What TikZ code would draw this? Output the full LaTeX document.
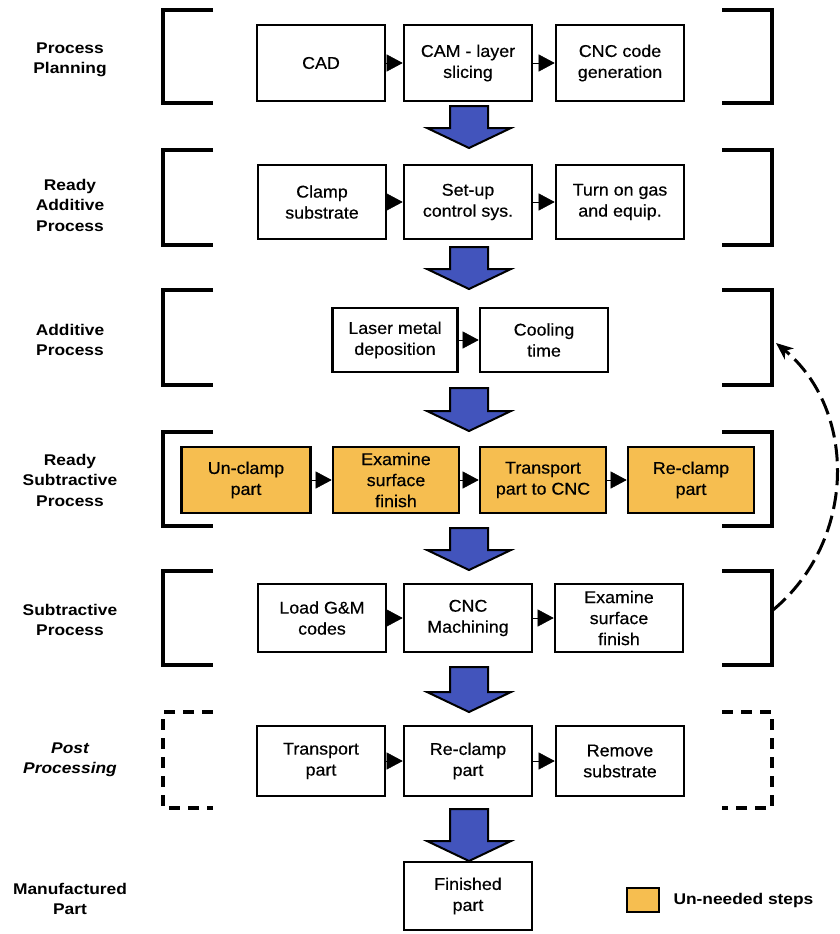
\documentclass[tikz,border=0pt]{standalone}
\usepackage{fontspec}
\setmainfont{Liberation Sans}
\newfontfamily\widesans[FakeStretch=1.12]{Liberation Sans}
\newfontfamily\boxsans[FakeStretch=1.05,FakeBold=0.5]{Liberation Sans}
\usetikzlibrary{arrows.meta,calc}
\definecolor{unneeded}{RGB}{246,190,80}
\definecolor{arrowblue}{RGB}{66,84,188}
\newcommand\bracketrow[3]{%
  \draw[bracketline,#3] (213,#1) -- (163,#1) -- (163,#2) -- (213,#2);
  \draw[bracketline,#3] (722,#1) -- (772,#1) -- (772,#2) -- (722,#2);}
\newcommand\blockarrow[2]{%
  \filldraw[blockarrow] (450,#1) -- (488,#1) -- (488,{#2-20}) -- (511,{#2-20})
    -- (469,#2) -- (427,{#2-20}) -- (450,{#2-20}) -- cycle;}
\begin{document}
\begin{tikzpicture}[x=1pt,y=-1pt,
  box/.style={draw=black, line width=2.6pt, fill=white, minimum width=128pt,
    minimum height=#1, align=center, inner sep=2pt,
    font=\boxsans\fontsize{17}{21}\selectfont},
  box/.default=74pt,
  unbox/.style={box=66pt, fill=unneeded},
  flow/.style={-{Triangle[length=16pt,width=17pt]}, line width=0.5pt, shorten <=-1pt},
  bracketline/.style={line width=3.1pt, line join=miter},
  blockarrow/.style={fill=arrowblue, draw=black, line width=2pt, line join=miter},
  rowlabel/.style={align=center, font=\widesans\bfseries\fontsize{15.5}{20.5}\selectfont},
]
\useasboundingbox (0,0) rectangle (840,934);

% brackets
\bracketrow{10}{103}{}
\bracketrow{150}{245}{}
\bracketrow{290}{385}{}
\bracketrow{432}{526}{}
\bracketrow{571}{665}{}
\bracketrow{712}{808}{dash pattern=on 11pt off 8pt}

% row labels
\node[rowlabel] (l1) at (70,60) {Process\\Planning};
\node[rowlabel] (l2) at (70,205) {Ready\\Additive\\Process};
\node[rowlabel] (l3) at (70,340) {Additive\\Process};
\node[rowlabel] (l4) at (70,480) {Ready\\Subtractive\\Process};
\node[rowlabel] (l5) at (70,620) {Subtractive\\Process};
\node[rowlabel] (l6) at (70,760) {\itshape Post\\\itshape Processing};
\node[rowlabel] (l7) at (70,899) {Manufactured\\Part};

% row 1
\node[box=76pt] (cad) at (321,63) {CAD};
\node[box=76pt] (cam) at (468,63) {CAM - layer\\slicing};
\node[box=76pt] (cnc) at (620,63) {CNC code\\generation};
\draw[flow] (cad) -- (cam);
\draw[flow] (cam) -- (cnc);

% row 2
\node[box] (clamp) at (322,202) {Clamp\\substrate};
\node[box] (setup) at (468,202) {Set-up\\control sys.};
\node[box] (gas) at (620,202) {Turn on gas\\and equip.};
\draw[flow] (clamp) -- (setup);
\draw[flow] (setup) -- (gas);

% row 3
\node[box=64pt, minimum width=125pt] (laser) at (395,340) {Laser metal\\deposition};
\node[box=64pt] (cool) at (544,340) {Cooling\\time};
\draw[flow] (laser) -- (cool);

% row 4
\node[unbox, minimum width=129pt] (unclamp) at (246,480) {Un-clamp\\part};
\node[unbox, minimum width=126pt] (exam1) at (396,480) {Examine\\surface\\finish};
\node[unbox, minimum width=126pt] (trans) at (543,480) {Transport\\part to CNC};
\node[unbox, minimum width=126pt] (reclamp1) at (691,480) {Re-clamp\\part};
\draw[flow] (unclamp) -- (exam1);
\draw[flow] (exam1) -- (trans);
\draw[flow] (trans) -- (reclamp1);

% row 5
\node[box=68pt] (load) at (322,618) {Load G\&M\\codes};
\node[box=68pt] (mach) at (468,618) {CNC\\Machining};
\node[box=68pt] (exam2) at (619,618) {Examine\\surface\\finish};
\draw[flow] (load) -- (mach);
\draw[flow] (mach) -- (exam2);

% row 6
\node[box=70pt] (transp) at (321,761) {Transport\\part};
\node[box=70pt] (reclamp2) at (468,761) {Re-clamp\\part};
\node[box=70pt] (remove) at (620,761) {Remove\\substrate};
\draw[flow] (transp) -- (reclamp2);
\draw[flow] (reclamp2) -- (remove);

% row 7
\node[box=68pt] (finished) at (468,896) {Finished\\part};

% block arrows between rows
\blockarrow{106}{148}
\blockarrow{247}{289}
\blockarrow{388}{431}
\blockarrow{528}{570}
\blockarrow{667}{712}
\blockarrow{809}{861}

% feedback dashed arrow
\coordinate (fbstart) at (773,610);
\coordinate (fbend) at (776,343);
\draw[line width=3pt, dash pattern=on 17pt off 7pt, -{Stealth[length=17pt,width=14pt,inset=5pt]}]
  (fbstart) .. controls (857,540) and (857,410) .. (fbend);

% legend
\node[draw=black, line width=1.6pt, fill=unneeded, minimum width=32pt, minimum height=24pt, inner sep=0pt] (legbox) at (643,900) {};
\node[anchor=west, font=\widesans\bfseries\fontsize{15.5}{19}\selectfont] (legtext) at (670,900) {Un-needed steps};
\end{tikzpicture}
\end{document}
